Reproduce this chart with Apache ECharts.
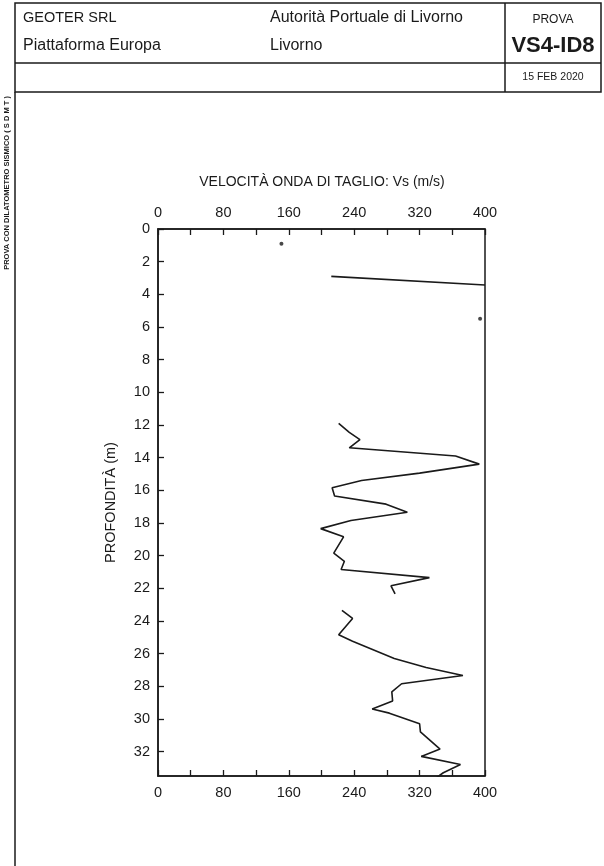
<!DOCTYPE html>
<html><head><meta charset="utf-8">
<script src="https://cdn.jsdelivr.net/npm/echarts/dist/echarts.min.js"></script>
<style>html,body{margin:0;padding:0;background:#fff}#c{width:604px;height:866px}</style>
</head><body><div id="c"></div>
<script>
// Tick labels
const vsTicks = [0, 80, 160, 240, 320, 400];
const depthTicks = [0,2,4,6,8,10,12,14,16,18,20,22,24,26,28,30,32];

// Isolated points
const dotDepth = [0.9, 5.5];
const dotVs = [151, 394];

// Short line near top
const depthA = [2.9, 3.43];
const vsA = [212, 400];

// Profile 12 - 22.5 m
const depthB = [11.9, 12.45, 12.9, 13.4, 13.9, 14.4, 14.95, 15.4, 15.85, 16.35, 16.85, 17.35, 17.85, 18.35, 18.85, 19.85, 20.35, 20.85, 21.35, 21.85, 22.35];
const vsB    = [221, 234, 247, 234, 364, 393, 320, 249, 213, 216, 279, 305, 236, 199, 227, 215, 228, 224, 332, 285, 290];

// Profile 23.5 - 33.8 m
const depthC = [23.35, 23.85, 24.85, 25.25, 26.3, 26.85, 27.35, 27.85, 28.35, 28.9, 29.4, 29.65, 30.3, 30.8, 31.85, 32.3, 32.8, 33.3, 33.8];
const vsC    = [225, 238, 221, 238, 289, 328, 373, 298, 286, 287, 262, 283, 320, 321, 345, 322, 370, 349, 335];

const pairs = (xs, ys) => xs.map((x, i) => [x, ys[i]]);
const FONT = '"Liberation Sans", Arial, sans-serif';
const INK = '#1a1a1a';

const chart = echarts.init(document.getElementById('c'), null, {renderer: 'canvas'});

const xLabel = {
  fontFamily: FONT, fontSize: 14.5, color: INK, margin: 9,
  formatter: v => vsTicks.indexOf(v) >= 0 ? String(v) : ''
};
const axisLineStyle = {show: true, lineStyle: {color: INK, width: 1.5}};
const tickStyle = {show: true, inside: true, length: 6, lineStyle: {color: INK, width: 1.3}};

function txt(text, x, y, size, opts) {
  return {
    type: 'text', x: x, y: y, silent: true,
    style: Object.assign({text: text, font: size + 'px ' + FONT, fill: INK, textAlign: 'left', verticalAlign: 'middle'}, opts || {})
  };
}

const lineStyleBox = {stroke: INK, lineWidth: 1.5, fill: null};

chart.setOption({
  animation: false,
  backgroundColor: '#fff',
  grid: {left: 158, top: 229, width: 327, height: 547, show: true, borderColor: INK, borderWidth: 1.5, backgroundColor: 'transparent'},
  xAxis: [
    {type: 'value', position: 'top', min: 0, max: 400, interval: 40,
     axisLine: axisLineStyle, axisTick: tickStyle, axisLabel: xLabel, splitLine: {show: false}},
    {type: 'value', position: 'bottom', min: 0, max: 400, interval: 40,
     axisLine: axisLineStyle, axisTick: tickStyle, axisLabel: xLabel, splitLine: {show: false}}
  ],
  yAxis: [{
    type: 'value', inverse: true, min: 0, max: 33.5, interval: 2,
    axisLine: axisLineStyle, axisTick: tickStyle, splitLine: {show: false},
    axisLabel: {fontFamily: FONT, fontSize: 14.5, color: INK, margin: 8, showMaxLabel: false,
      formatter: v => depthTicks.indexOf(v) >= 0 ? String(v) : ''},
    name: 'PROFONDITÀ (m)', nameLocation: 'middle', nameGap: 40, nameRotate: 90,
    nameTextStyle: {fontFamily: FONT, fontSize: 14.5, color: INK}
  }],
  series: [
    {type: 'scatter', xAxisIndex: 0, data: pairs(dotVs, dotDepth), symbol: 'circle', symbolSize: 4,
     itemStyle: {color: INK}},
    {type: 'line', xAxisIndex: 0, data: pairs(vsA, depthA), showSymbol: false, clip: true,
     lineStyle: {color: INK, width: 1.6}},
    {type: 'line', xAxisIndex: 0, data: pairs(vsB, depthB), showSymbol: false, clip: true,
     lineStyle: {color: INK, width: 1.6}},
    {type: 'line', xAxisIndex: 0, data: pairs(vsC, depthC), showSymbol: false, clip: true,
     lineStyle: {color: INK, width: 1.6}}
  ],
  graphic: [
    {type: 'rect', shape: {x: 15, y: 3, width: 586, height: 89}, style: lineStyleBox, silent: true},
    {type: 'line', shape: {x1: 505, y1: 3, x2: 505, y2: 92}, style: lineStyleBox, silent: true},
    {type: 'line', shape: {x1: 15, y1: 63, x2: 601, y2: 63}, style: lineStyleBox, silent: true},
    {type: 'line', shape: {x1: 15, y1: 92, x2: 15, y2: 866}, style: lineStyleBox, silent: true},
    txt('GEOTER SRL', 23, 18, 14.5),
    txt('Piattaforma Europa', 23, 46, 16),
    txt('Autorità Portuale di Livorno', 270, 18, 16),
    txt('Livorno', 270, 46, 16),
    txt('PROVA', 553, 20, 12, {textAlign: 'center'}),
    txt('VS4-ID8', 553, 46, 22, {textAlign: 'center', font: 'bold 22px ' + FONT}),
    txt('15 FEB 2020', 553, 77, 10.5, {textAlign: 'center'}),
    {type: 'text', x: 7, y: 183, rotation: Math.PI / 2, silent: true,
     style: {text: 'PROVA CON DILATOMETRO SISMICO ( S D M T )', font: 'bold 7.5px ' + FONT, fill: INK, textAlign: 'center', verticalAlign: 'middle'}},
    txt('VELOCITÀ ONDA DI TAGLIO: Vs (m/s)', 322, 182, 14, {textAlign: 'center'})
  ]
});
</script></body></html>
